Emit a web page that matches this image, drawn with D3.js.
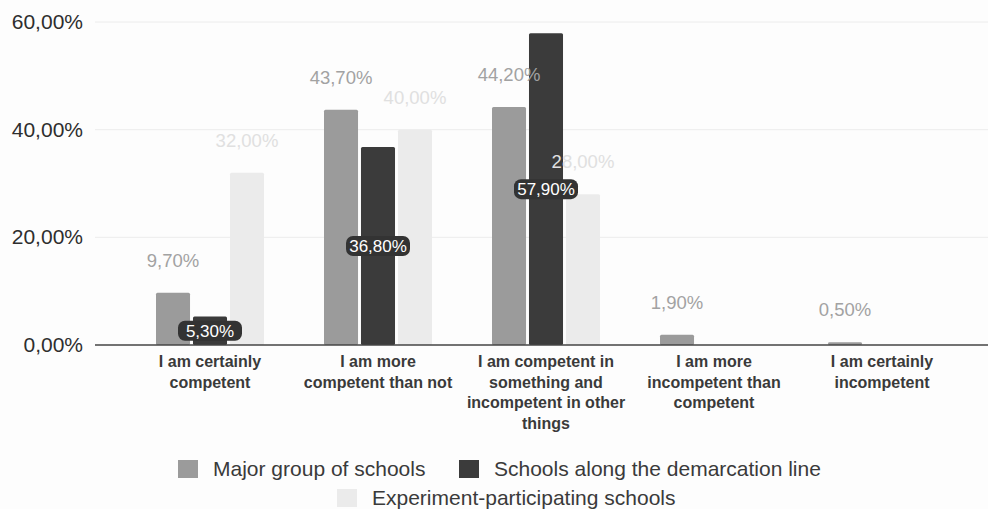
<!DOCTYPE html>
<html>
<head>
<meta charset="utf-8">
<script src="https://cdn.jsdelivr.net/npm/d3@7"></script>
<style>
  body { margin: 0; background: #fff; }
  text { font-family: "Liberation Sans", Arial, sans-serif; }
</style>
</head>
<body>
<div id="chart"></div>
<script>
const categories = [
  "I am certainly\ncompetent",
  "I am more\ncompetent than not",
  "I am competent in\nsomething and\nincompetent in other\nthings",
  "I am more\nincompetent than\ncompetent",
  "I am certainly\nincompetent"
]
const seriesNames = ["Major group of schools", "Schools along the demarcation line", "Experiment-participating schools"]
const majorGroup = [9.7, 43.7, 44.2, 1.9, 0.5]
const demarcation = [5.3, 36.8, 57.9, 0, 0]
const experiment = [32.0, 40.0, 28.0, 0, 0]
const yTicks = [0, 20, 40, 60]

const WIDTH = 988
const HEIGHT = 509
const colors = ["#9b9b9b", "#3b3b3b", "#ebebeb"]
const labelColors = ["#a2a2a2", "#ffffff", "#e0e0e0"]

const fmt = v => d3.format(".2f")(v).replace(".", ",") + "%"

const svg = d3.select("#chart")
  .append("svg")
  .attr("width", WIDTH)
  .attr("height", HEIGHT)

svg.append("rect").attr("width", WIDTH).attr("height", HEIGHT).attr("fill", "#fdfdfd")

const y = d3.scaleLinear()
  .domain([0, 60])
  .range([345, 22])

const x0 = d3.scaleBand()
  .domain(categories)
  .range([126, 966])

const groupW = 108
const x1 = d3.scaleBand()
  .domain(seriesNames)
  .range([0, groupW])
  .paddingInner(0.08)

// gridlines
svg.append("g")
  .selectAll("line")
  .data(yTicks.filter(t => t > 0))
  .enter().append("line")
  .attr("x1", 95).attr("x2", WIDTH)
  .attr("y1", d => y(d)).attr("y2", d => y(d))
  .attr("stroke", "#ececec")

// y tick labels
svg.append("g")
  .selectAll("text")
  .data(yTicks)
  .enter().append("text")
  .attr("x", 83)
  .attr("y", d => y(d) + 7)
  .attr("text-anchor", "end")
  .attr("font-size", 21)
  .attr("fill", "#2e2e2e")
  .text(d => fmt(d))

const data = categories.map((c, i) => ({
  cat: c,
  vals: [majorGroup[i], demarcation[i], experiment[i]]
}))

const groups = svg.append("g")
  .selectAll("g")
  .data(data)
  .enter().append("g")
  .attr("transform", d => `translate(${x0(d.cat) + (x0.bandwidth() - groupW) / 2},0)`)

groups.selectAll("rect")
  .data(d => d.vals.map((v, k) => ({ name: seriesNames[k], v, k })))
  .enter().append("rect")
  .filter(d => d.v > 0)
  .attr("x", d => x1(d.name))
  .attr("y", d => y(d.v))
  .attr("width", x1.bandwidth())
  .attr("height", d => y(0) - y(d.v))
  .attr("rx", 1.5)
  .attr("fill", d => colors[d.k])

// labels above bars (series 0 and 2)
groups.selectAll("text.above")
  .data(d => d.vals.map((v, k) => ({ name: seriesNames[k], v, k })).filter(e => e.v > 0 && e.k !== 1))
  .enter().append("text")
  .attr("class", "above")
  .attr("x", d => x1(d.name) + x1.bandwidth() / 2)
  .attr("y", d => y(d.v) - 26)
  .attr("text-anchor", "middle")
  .attr("font-size", 18.5)
  .attr("fill", d => labelColors[d.k])
  .text(d => fmt(d.v))

// labels inside dark bars with background box
const inside = groups.selectAll("g.inside")
  .data(d => d.vals.map((v, k) => ({ name: seriesNames[k], v, k })).filter(e => e.v > 0 && e.k === 1))
  .enter().append("g")
  .attr("class", "inside")
  .attr("transform", d => `translate(${x1(d.name) + x1.bandwidth() / 2},${(y(d.v) + y(0)) / 2})`)

inside.append("rect")
  .attr("x", -32).attr("y", -10)
  .attr("width", 64).attr("height", 20)
  .attr("rx", 7)
  .attr("fill", "#333")

inside.append("text")
  .attr("y", 6)
  .attr("text-anchor", "middle")
  .attr("font-size", 17)
  .attr("fill", "#fff")
  .text(d => fmt(d.v))

// x axis line
svg.append("line")
  .attr("x1", 95).attr("x2", WIDTH)
  .attr("y1", y(0)).attr("y2", y(0))
  .attr("stroke", "#444").attr("stroke-width", 1.5)

// category labels
svg.append("g")
  .selectAll("text")
  .data(categories)
  .enter().append("text")
  .attr("x", d => x0(d) + x0.bandwidth() / 2)
  .attr("y", 367)
  .attr("text-anchor", "middle")
  .attr("font-size", 16)
  .attr("font-weight", "bold")
  .attr("fill", "#3a3a3a")
  .selectAll("tspan")
  .data(d => d.split("\n"))
  .enter().append("tspan")
  .attr("x", function () { return d3.select(this.parentNode).attr("x") })
  .attr("dy", (d, i) => i === 0 ? 0 : 20.7)
  .text(d => d)

// legend
const legendPos = [[178, 469], [459, 469], [337, 498]]
const legend = svg.append("g")
  .selectAll("g")
  .data(seriesNames)
  .enter().append("g")
  .attr("transform", (d, i) => `translate(${legendPos[i][0]},${legendPos[i][1]})`)

legend.append("rect")
  .attr("x", 0).attr("y", -9)
  .attr("width", 20).attr("height", 18)
  .attr("fill", (d, i) => colors[i])

legend.append("text")
  .attr("x", 35)
  .attr("y", 7)
  .attr("font-size", 21)
  .attr("fill", "#3a3a3a")
  .text(d => d)
</script>
</body>
</html>
